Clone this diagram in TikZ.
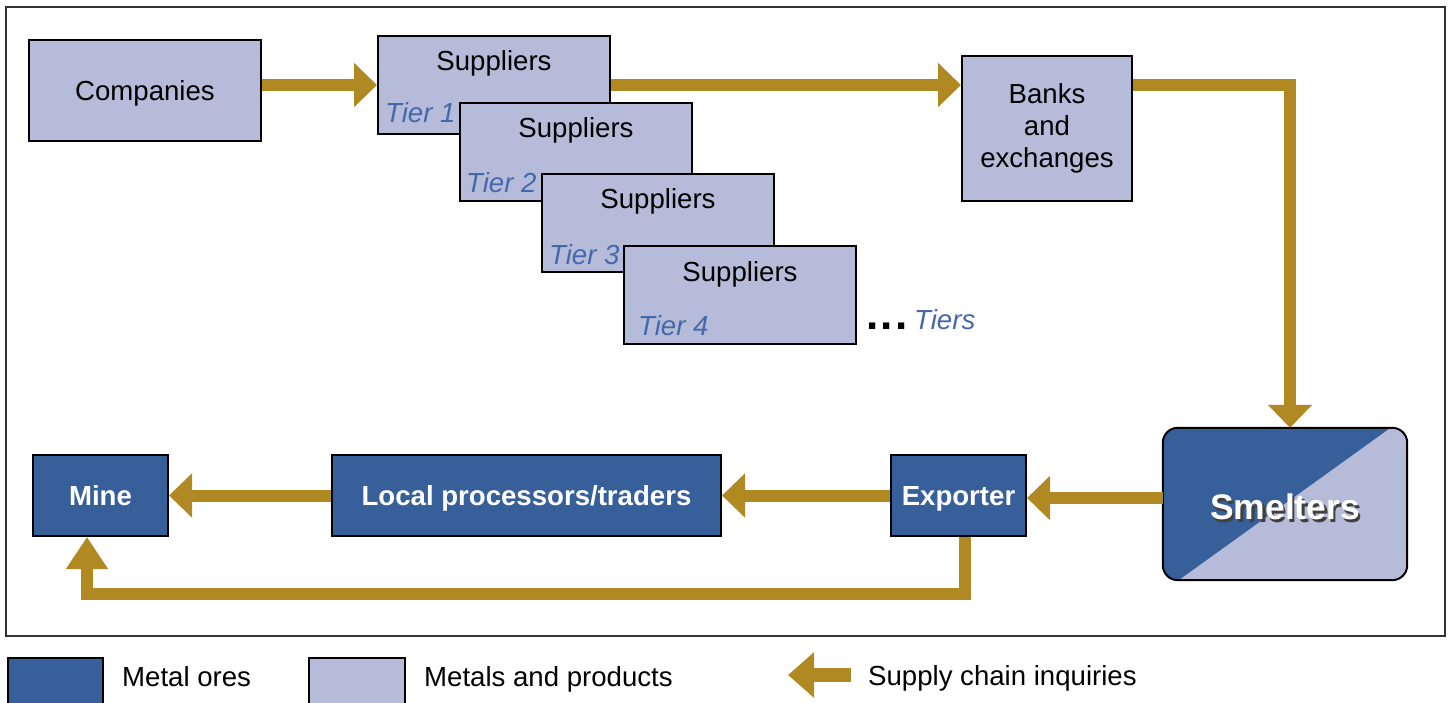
\documentclass[tikz,border=0pt]{standalone}
\usepackage{fontspec}
\setmainfont{Liberation Sans}
\usetikzlibrary{arrows.meta}
\definecolor{lightbox}{RGB}{182,187,217}
\definecolor{darkbox}{RGB}{55,96,155}
\definecolor{gold}{RGB}{176,137,35}
\definecolor{tierblue}{RGB}{68,105,170}
\definecolor{frame}{RGB}{50,50,50}
\begin{document}
\begin{tikzpicture}[x=1pt,y=-1pt,
  txt/.style={font=\fontsize{27.6}{32}\selectfont},
  lbox/.style={txt, draw=black, line width=2pt, fill=lightbox, inner sep=0pt},
  onel/.style={text height=20pt, text depth=0pt},
  dbox/.style={lbox, onel, fill=darkbox, text=white, font=\fontsize{27.6}{32}\selectfont\bfseries},
  tierlbl/.style={txt, text=tierblue, font=\fontsize{27.6}{32}\selectfont\itshape, inner sep=0pt, anchor=west},
  garrow/.style={draw=gold, line width=12pt, line join=miter, -{Triangle[length=23pt,width=43pt]}},
]
\useasboundingbox (0,0) rectangle (1450,703);
\begin{scope}
\clip (0,0) rectangle (1450,703);
% outer frame
\draw[frame, line width=1.5pt] (6,7) rectangle (1445,636);

% top row
\node[lbox, onel, minimum width=232pt, minimum height=101pt] (comp) at (145,90.5) {Companies};

\node[lbox, minimum width=232pt, minimum height=98pt] (t1) at (494,85) {};
\node[txt, inner sep=0pt, onel] (s1) at ([yshift=-26pt]t1.north) {Suppliers};
\node[tierlbl] (l1) at ([xshift=8pt,yshift=22pt]t1.south west) {Tier 1};

\node[lbox, minimum width=232pt, minimum height=98pt] (t2) at (576,152) {};
\node[txt, inner sep=0pt, onel] (s2) at ([yshift=-26pt]t2.north) {Suppliers};
\node[tierlbl] (l2) at ([xshift=7pt,yshift=19pt]t2.south west) {Tier 2};

\node[lbox, minimum width=232pt, minimum height=98pt] (t3) at (658,223) {};
\node[txt, inner sep=0pt, onel] (s3) at ([yshift=-26pt]t3.north) {Suppliers};
\node[tierlbl] (l3) at ([xshift=8pt,yshift=18pt]t3.south west) {Tier 3};

\node[lbox, minimum width=232pt, minimum height=98pt] (t4) at (740,295) {};
\node[txt, inner sep=0pt, onel] (s4) at ([yshift=-26pt]t4.north) {Suppliers};
\node[tierlbl] (l4) at ([xshift=15pt,yshift=19pt]t4.south west) {Tier 4};

\node[inner sep=0pt, anchor=base west, font=\fontsize{44}{48}\selectfont\bfseries] (dots) at (866,329) {.\kern2.5pt.\kern2.5pt.};
\node[tierlbl] (more) at (914,320) {Tiers};

\node[lbox, minimum width=170pt, minimum height=145pt, align=center] (banks) at (1047,128.5) {Banks\\and\\exchanges};

% smelters
\node[draw=none, fill=lightbox, rounded corners=15pt, minimum width=244pt, minimum height=152pt] (sm) at (1285,504) {};
\begin{scope}
\clip[rounded corners=15pt] (sm.south west) rectangle (sm.north east);
\fill[darkbox] (1150,413) -- (1411,413) -- (1158,595) -- (1150,595) -- cycle;
\end{scope}
\draw[black, line width=2pt, rounded corners=15pt] (sm.south west) rectangle (sm.north east);
\node[text=black!75, font=\fontsize{35.5}{40}\selectfont\bfseries, inner sep=0pt, text height=25pt, text depth=0pt] (smsh) at ([xshift=2.5pt,yshift=-5.5pt]sm.center) {Smelters};
\node[text=white, font=\fontsize{35.5}{40}\selectfont\bfseries, inner sep=0pt, text height=25pt, text depth=0pt] (smt) at ([yshift=-3pt]sm.center) {Smelters};

% bottom row
\node[dbox, minimum width=135pt, minimum height=81pt] (ex) at (958.5,495.5) {Exporter};
\node[dbox, minimum width=389pt, minimum height=81pt] (loc) at (526.5,495.5) {Local processors/traders};
\node[dbox, minimum width=135pt, minimum height=81pt] (mine) at (100.5,495.5) {Mine};

% arrows
\draw[garrow] (comp.east |- t1.west) -- (t1.west);
\draw[garrow] (t1.east) -- (t1.east -| banks.west);
\draw[garrow] (banks.east |- t1.east) -| ([xshift=5pt]sm.north);
\draw[garrow] (sm.west |- 0,498) -- (ex.east |- 0,498);
\draw[garrow] (ex.west) -- (loc.east);
\draw[garrow] (loc.west) -- (mine.east);
\coordinate (loopc) at (87,594);
\draw[garrow, -{Triangle[length=32pt,width=40pt]}] ([xshift=6.5pt]ex.south) |- (loopc) -- (loopc |- mine.south);

% legend
\node[draw=black, line width=2pt, fill=darkbox, minimum width=95pt, minimum height=60pt, inner sep=0pt, anchor=north west] (leg1) at (7,657) {};
\node[txt, inner sep=0pt, anchor=base west] (leg1t) at (122,686) {Metal ores};
\node[draw=black, line width=2pt, fill=lightbox, minimum width=96pt, minimum height=60pt, inner sep=0pt, anchor=north west] (leg2) at (308,657) {};
\node[txt, inner sep=0pt, anchor=base west] (leg2t) at (424,686) {Metals and products};
\coordinate (leg3a) at (851,675);
\node[txt, inner sep=0pt, anchor=base west] (leg3t) at (868,685) {Supply chain inquiries};
\draw[draw=gold, line width=14pt, -{Triangle[length=26pt,width=44pt]}] (leg3a) -- ++(-63,0);
\end{scope}
\end{tikzpicture}
\end{document}
